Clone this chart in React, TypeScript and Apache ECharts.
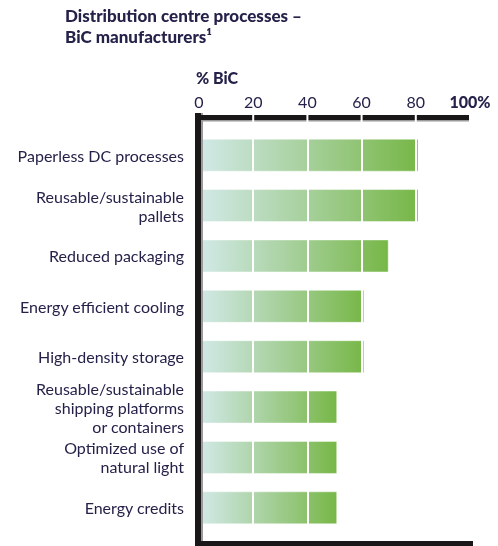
import React, { useEffect, useRef } from "react";
import * as echarts from "echarts";

const titleText = "Distribution centre processes –\nBiC manufacturers¹";
const axisName = "% BiC";
const categories = [
  "Paperless DC processes",
  "Reusable/sustainable\npallets",
  "Reduced packaging",
  "Energy efficient cooling",
  "High-density storage",
  "Reusable/sustainable\nshipping platforms\nor containers",
  "Optimized use of\nnatural light",
  "Energy credits",
];
const values = [81, 81, 70, 61, 61, 51, 51, 51];
const xTicks = [0, 20, 40, 60, 80, 100];
const separators = [20, 40, 60, 80];

const FONT = "Lato";
const TEXT = "#25224a";
const GRID_LEFT = 199;
const GRID_RIGHT_PX = 470;
const GRID_TOP = 130;
const GRID_BOTTOM_PX = 533;

export default function App() {
  const ref = useRef<HTMLDivElement>(null);
  useEffect(() => {
    if (!ref.current) return;
    const chart = echarts.init(ref.current, null, { renderer: "svg" });
    const w = GRID_RIGHT_PX - GRID_LEFT;
    const segs: any[] = [];
    for (let i = 0; i < 5; i++) {
      const x0 = GRID_LEFT + (i * w) / 5 + (i === 0 ? -3 : 1);
      const x1 = GRID_LEFT + ((i + 1) * w) / 5 - 1;
      segs.push({ type: "rect", z: 100, shape: { x: x0, y: 120, width: x1 - x0, height: 1.5 }, style: { fill: "#9a9a9a" } });
      segs.push({ type: "rect", z: 101, shape: { x: x0, y: 115, width: x1 - x0, height: 5 }, style: { fill: "#1a1718" } });
    }
    chart.setOption({
      animation: false,
      title: {
        text: titleText,
        left: 60,
        top: 0,
        textStyle: { fontFamily: FONT, fontWeight: 900, fontSize: 17, lineHeight: 21, color: TEXT },
      },
      grid: { left: GRID_LEFT, right: 498 - GRID_RIGHT_PX, top: GRID_TOP, bottom: 546 - GRID_BOTTOM_PX, containLabel: false },
      xAxis: {
        type: "value",
        position: "top",
        min: 0,
        max: 100,
        interval: 20,
        axisLine: { show: false },
        axisTick: { show: false },
        splitLine: { show: false },
        axisLabel: {
          margin: 21,
          fontFamily: FONT,
          fontSize: 16,
          color: TEXT,
          formatter: (v: number) => (v === xTicks[xTicks.length - 1] ? `{b|${v}%}` : `${v}`),
          rich: { b: { fontFamily: FONT, fontSize: 16, fontWeight: 900, color: TEXT } },
        },
      },
      yAxis: {
        type: "category",
        inverse: true,
        data: categories,
        axisLine: { show: false },
        axisTick: { show: false },
        axisLabel: { margin: 15, fontFamily: FONT, fontSize: 16, lineHeight: 19, color: TEXT, align: "right" },
      },
      series: [
        {
          type: "bar",
          data: values,
          barWidth: 33,
          itemStyle: {
            color: new echarts.graphic.LinearGradient(0, 0, 1, 0, [
              { offset: 0, color: "#d2e9e8" },
              { offset: 0.45, color: "#aad2a2" },
              { offset: 1, color: "#77b747" },
            ]),
            borderColor: "rgba(255,255,255,0.45)",
            borderWidth: 1,
          },
          markLine: {
            silent: true,
            symbol: "none",
            label: { show: false },
            lineStyle: { color: "#ffffff", width: 2, type: "solid" },
            data: separators.map((s) => ({ xAxis: s })),
          },
        },
      ],
      graphic: [
        {
          type: "text",
          left: 196,
          top: 69,
          style: { text: axisName, fontFamily: FONT, fontSize: 16, fontWeight: 900, fill: TEXT },
        },
        ...segs,
        { type: "rect", z: 100, shape: { x: 201, y: 113, width: 2, height: 433 }, style: { fill: "#9a9a9a" } },
        { type: "rect", z: 101, shape: { x: 195, y: 113, width: 6, height: 433 }, style: { fill: "#1a1718" } },
        { type: "rect", z: 101, shape: { x: 195, y: 546 - 5, width: 278, height: 5 }, style: { fill: "#1a1718" } },
      ],
    });
    return () => chart.dispose();
  }, []);
  return <div ref={ref} style={{ position: "fixed", left: 0, top: 0, width: 498, height: 546 }} />;
}
